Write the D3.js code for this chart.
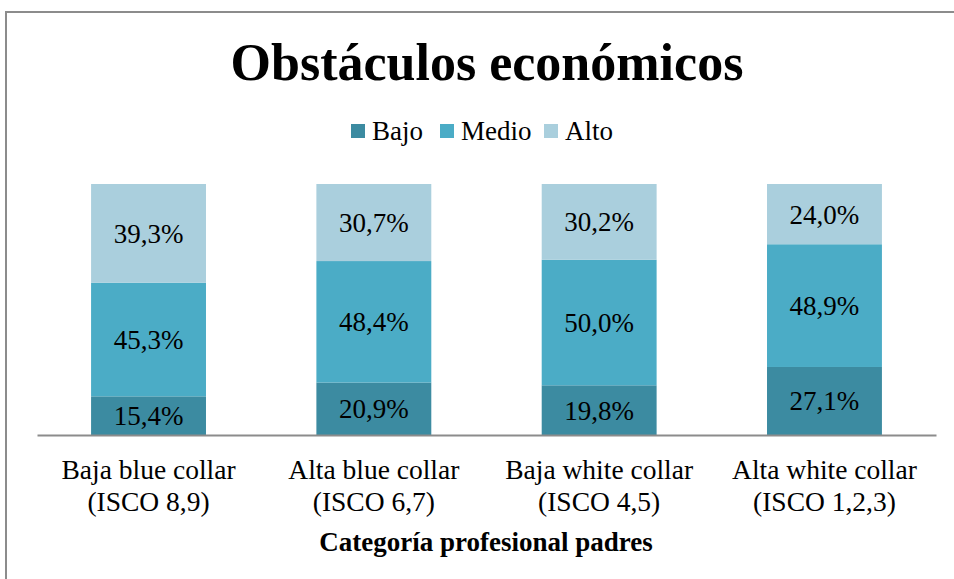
<!DOCTYPE html>
<html>
<head>
<meta charset="utf-8">
<script src="https://cdn.jsdelivr.net/npm/d3@7"></script>
<style>
	body { margin: 0; background: #fff; }
	text { font-family: "Liberation Serif", "DejaVu Serif", serif; fill: #000; }
</style>
</head>
<body>
<div id="chart"></div>
<script>
// chart data
var categories = ['Baja blue collar|(ISCO 8,9)', 'Alta blue collar|(ISCO 6,7)',
	'Baja white collar|(ISCO 4,5)', 'Alta white collar|(ISCO 1,2,3)'];
var seriesNames = ['Bajo', 'Medio', 'Alto'];
var bajo  = [15.4, 20.9, 19.8, 27.1];
var medio = [45.3, 48.4, 50.0, 48.9];
var alto  = [39.3, 30.7, 30.2, 24.0];
var colors = ['#3C8BA1', '#4BACC6', '#AACFDD'];

var width = 954, height = 579;
var margin = {top: 184, right: 18, bottom: 144, left: 37};

var svg = d3.select('#chart').append('svg')
	.attr('width', width)
	.attr('height', height);

// outer frame
svg.append('rect')
	.attr('x', 6).attr('y', 12)
	.attr('width', width).attr('height', height)
	.attr('fill', 'none')
	.attr('stroke', '#8c8c8c')
	.attr('stroke-width', 2);

var rows = categories.map(function(c, i) {
	return {cat: c, Bajo: bajo[i], Medio: medio[i], Alto: alto[i]};
});
var stack = d3.stack().keys(seriesNames)
	.offset(d3.stackOffsetExpand)(rows);

var x = d3.scaleBand()
	.domain(categories)
	.range([margin.left, width - margin.right])
	.paddingInner(0.49).paddingOuter(0.24);

var y = d3.scaleLinear()
	.domain([0, 1])
	.range([height - margin.bottom, margin.top]);

var fmt = function(v) { return v.toFixed(1).replace('.', ',') + '%'; };

var layer = svg.append('g').selectAll('g')
	.data(stack)
	.enter().append('g')
	.attr('fill', function(d, i) { return colors[i]; });

layer.selectAll('rect')
	.data(function(d) { return d; })
	.enter().append('rect')
	.attr('x', function(d) { return x(d.data.cat); })
	.attr('y', function(d) { return y(d[1]); })
	.attr('width', x.bandwidth())
	.attr('height', function(d) { return y(d[0]) - y(d[1]); });

layer.selectAll('text')
	.data(function(d) { return d.map(function(p) { return {p: p, key: d.key}; }); })
	.enter().append('text')
	.attr('x', function(d) { return x(d.p.data.cat) + x.bandwidth() / 2; })
	.attr('y', function(d) { return (y(d.p[0]) + y(d.p[1])) / 2; })
	.attr('dy', '0.35em')
	.attr('text-anchor', 'middle')
	.style('font-size', '27px')
	.text(function(d) { return fmt(d.p.data[d.key]); });

// x axis
var xAxis = svg.append('g')
	.attr('transform', 'translate(0,' + (height - margin.bottom) + ')')
	.call(d3.axisBottom(x).tickSize(0).tickPadding(0).tickFormat(''));
xAxis.select('.domain').attr('stroke', '#8c8c8c').attr('stroke-width', 2);

var ticks = svg.append('g').selectAll('text')
	.data(categories)
	.enter().append('text')
	.attr('x', function(d) { return x(d) + x.bandwidth() / 2; })
	.attr('y', 479)
	.attr('text-anchor', 'middle')
	.style('font-size', '27.5px');
ticks.append('tspan')
	.attr('x', function(d) { return x(d) + x.bandwidth() / 2; })
	.text(function(d) { return d.split('|')[0]; });
ticks.append('tspan')
	.attr('x', function(d) { return x(d) + x.bandwidth() / 2; })
	.attr('dy', 32)
	.text(function(d) { return d.split('|')[1]; });

svg.append('text')
	.attr('x', 486).attr('y', 551)
	.attr('text-anchor', 'middle')
	.style('font-size', '27px')
	.style('font-weight', 'bold')
	.text('Categoría profesional padres');

// title
svg.append('text')
	.attr('x', 487).attr('y', 80)
	.attr('text-anchor', 'middle')
	.style('font-size', '52px')
	.style('font-weight', 'bold')
	.text('Obstáculos económicos');

// legend
var legendX = [351, 440, 544];
var legend = svg.append('g').selectAll('g')
	.data(seriesNames)
	.enter().append('g')
	.attr('transform', function(d, i) { return 'translate(' + legendX[i] + ',124)'; });
legend.append('rect')
	.attr('width', 14).attr('height', 14)
	.attr('fill', function(d, i) { return colors[i]; });
legend.append('text')
	.attr('x', 21).attr('y', 7)
	.attr('dy', '0.35em')
	.style('font-size', '27px')
	.text(function(d) { return d; });
</script>
</body>
</html>
